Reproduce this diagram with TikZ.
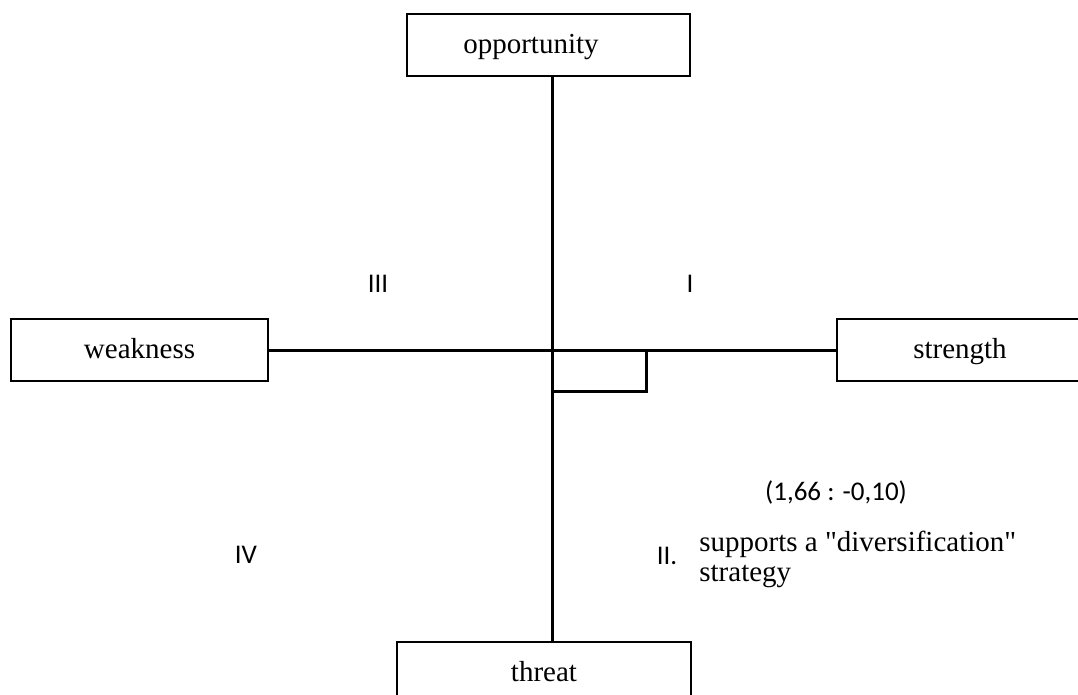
\documentclass[tikz,border=0pt]{standalone}
\usepackage{fontspec}
\setmainfont{Liberation Serif}[Ligatures=TeXOff]
\newfontfamily\quadfont{Carlito}

\tikzstyle{factor} = [draw, line width=1pt, minimum height=31pt, inner sep=0pt, text height=12pt, text depth=3pt, font=\fontsize{14.5}{15}\selectfont]
\tikzstyle{quadrant} = [inner sep=0pt, font=\quadfont\fontsize{13.5}{15}\selectfont]
\tikzstyle{axis} = [line width=1.5pt]

\begin{document}
\begin{tikzpicture}[x=0.5pt, y=-0.5pt]
\useasboundingbox (0,0) rectangle (1078,695);
% the four factors
\node[factor, minimum width=141.5pt] (opp) at (548.5,45) {\hspace*{-17.5pt}opportunity};
\node[factor, minimum width=128.5pt] (weak) at (139.5,350) {weakness};
\node[factor, minimum width=123pt] (str) at (960,350) {strength};
\node[factor, minimum width=147pt] (thr) at (544,673) {threat};
\coordinate (cross) at (552,351);
\coordinate (mark) at (646,392);
% axes
\draw[axis] (opp.south -| cross) -- (thr.north -| cross);
\draw[axis] (weak.east |- cross) -- (str.west |- cross);
\draw[axis] (cross |- mark) -- (mark) -- (mark |- cross);
% quadrants
\node[quadrant] (q1) at (690,284) {I};
\node[quadrant] (q2) at (667,556) {II.};
\node[quadrant] (q3) at (378,284) {III};
\node[quadrant] (q4) at (246,555) {IV};
\node[quadrant] (pos) at (836,492) {(1,66 : -0,10)};
\node[anchor=north west, inner sep=0pt, align=left, font=\fontsize{14.5}{15}\selectfont] (rec) at (699,531)
    {supports a "diversification"\\strategy};
\end{tikzpicture}
\end{document}
